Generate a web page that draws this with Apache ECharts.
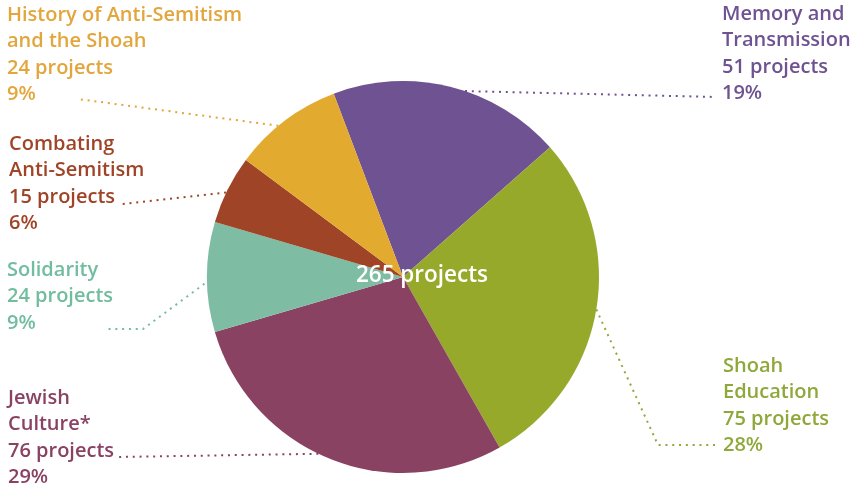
<!DOCTYPE html>
<html><head><meta charset="utf-8">
<script src="https://cdn.jsdelivr.net/npm/echarts@6/dist/echarts.min.js"></script>
<style>html,body{margin:0;padding:0;background:#fff}#c{width:852px;height:490px}</style>
</head><body><div id="c"></div>
<script>
// ---- data ----
const categories = ['Memory and\nTransmission', 'Shoah\nEducation', 'Jewish\nCulture*', 'Solidarity', 'Combating\nAnti-Semitism', 'History of Anti-Semitism\nand the Shoah'];
const projects = [51, 75, 76, 24, 15, 24];
const unitLabel = 'projects';

// ---- styles / layout ----
const colors = ['#6F5291', '#97A92B', '#8A4263', '#7EBDA3', '#A04428', '#E3AA30'];
const textColors = ['#6F5291', '#8FA83A', '#8A4263', '#72BCA0', '#A04428', '#E2A63C'];
const CX = 403, CY = 277, R = 196;
// label block top-left, anchor radius factor k, anchor angle shift (deg, clockwise), connector waypoints
const labelLayouts = [
  { x: 722, y: 1,   k: 1,    rot: 4.5, via: [[716, 97]] },
  { x: 723, y: 353, k: 1,    rot: 0,   via: [[658, 445], [715, 445]] },
  { x: 8,   y: 385, k: 1,    rot: 3.5, via: [[118, 457]] },
  { x: 7,   y: 257, k: 0.85, rot: 6,   via: [[143, 329], [107, 329]] },
  { x: 9,   y: 131, k: 1,    rot: -1,  via: [[122, 204]] },
  { x: 7,   y: 2,   k: 1,    rot: -2.5, via: [[78, 99]] }
];
const FONT = '"Open Sans", sans-serif';

const total = projects.reduce((a, b) => a + b, 0);
const chart = echarts.init(document.getElementById('c'), null, { renderer: 'canvas' });
chart.setOption({
  animation: false,
  backgroundColor: '#fff',
  graphic: [{
    type: 'text', x: 422, y: 276, z: 100,
    style: { text: total + ' ' + unitLabel, fill: '#fff', font: '600 22.5px ' + FONT, align: 'center', verticalAlign: 'middle' }
  }],
  series: [{
    type: 'pie',
    center: [CX, CY],
    radius: [0, R],
    startAngle: 110.7,
    clockwise: true,
    avoidLabelOverlap: false,
    data: categories.map((n, i) => ({
      name: n, value: projects[i],
      itemStyle: { color: colors[i] },
      label: { color: textColors[i] },
      labelLine: { lineStyle: { color: textColors[i] } }
    })),
    label: {
      show: true, position: 'outside',
      fontFamily: FONT, fontWeight: 600, fontSize: 20, lineHeight: 26.5,
      formatter: p => p.name + '\n' + p.value + ' ' + unitLabel + '\n' + Math.round(p.percent) + '%'
    },
    labelLine: { show: true, lineStyle: { width: 2, type: [2, 4.8], cap: 'butt' } },
    labelLayout: function (params) {
      const L = labelLayouts[params.dataIndex];
      const p0 = params.labelLinePoints[0];
      const dx = p0[0] - CX, dy = p0[1] - CY;
      const t = L.rot * Math.PI / 180, c = Math.cos(t), s = Math.sin(t);
      const a = [CX + (dx * c - dy * s) * L.k, CY + (dx * s + dy * c) * L.k];
      return { x: L.x, y: L.y, align: 'left', verticalAlign: 'top', labelLinePoints: [a].concat(L.via) };
    }
  }]
});
</script></body></html>
